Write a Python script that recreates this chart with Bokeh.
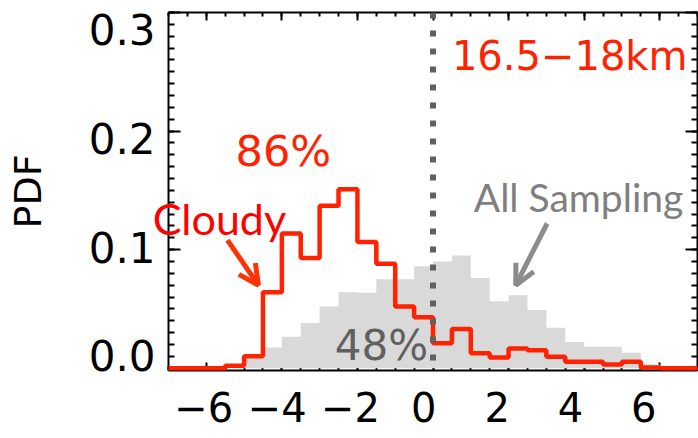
from bokeh.plotting import figure
from bokeh.models import (LinearAxis, Range1d, FixedTicker, Span, Label, Arrow, OpenHead)
from bokeh.core.properties import value
from bokeh.embed import file_html
from bokeh.resources import INLINE

# ---------------- data ----------------
bin_left = [-7.0, -6.5, -6.0, -5.5, -5.0, -4.5, -4.0, -3.5, -3.0, -2.5, -2.0, -1.5, -1.0, -0.5,
            0.0, 0.5, 1.0, 1.5, 2.0, 2.5, 3.0, 3.5, 4.0, 4.5, 5.0, 5.5, 6.0, 6.5]
bin_width = 0.5
cloudy_pdf = [0.0, 0.0, 0.0, 0.002, 0.010, 0.064, 0.1135, 0.093, 0.137, 0.151, 0.1065, 0.088, 0.052, 0.043,
              0.021, 0.033, 0.0125, 0.009, 0.0165, 0.015, 0.0095, 0.0053, 0.0053, 0.003, 0.0053, 0.0005, 0.0, 0.0]
all_pdf = [0.0, 0.0, 0.001, 0.003, 0.009, 0.0175, 0.0265, 0.038, 0.052, 0.064, 0.0635, 0.075, 0.075, 0.086,
           0.090, 0.095, 0.076, 0.0565, 0.0615, 0.049, 0.034, 0.022, 0.018, 0.018, 0.013, 0.003, 0.0, 0.0]
x_tick_values = [-6, -4, -2, 0, 2, 4, 6]
x_tick_labels = ["\u22126", "\u22124", "\u22122", "0", "2", "4", "6"]
y_tick_values = [0.0, 0.1, 0.2, 0.3]
y_tick_labels = ["0.0", "0.1", "0.2", "0.3"]
x_minor_values = [-7.0 + 0.5 * i for i in range(29)]
y_minor_values = [round(0.01 * i, 2) for i in range(31)]

edges = bin_left + [bin_left[-1] + bin_width]
cloudy_step = cloudy_pdf + [cloudy_pdf[-1]]
all_step = all_pdf + [all_pdf[-1]]

RED = "#ff2200"
TICK_FONT = "DejaVu Sans"

p = figure(width=698, height=438, x_range=Range1d(-7, 7), y_range=Range1d(-0.002, 0.3),
           output_backend="svg", toolbar_location=None,
           x_axis_type=None, y_axis_type=None,
           min_border_left=168, min_border_right=1, min_border_top=12, min_border_bottom=68)
p.outline_line_color = None
p.background_fill_color = "white"
p.border_fill_color = "white"

p.extra_x_ranges = {"lab": Range1d(-6.962, 7.464)}
p.extra_y_ranges = {"lab": Range1d(-0.0135, 0.3159)}


def tick_axis(loc, positions, length, with_line):
    ax = LinearAxis(ticker=FixedTicker(ticks=[], minor_ticks=positions),
                    axis_line_color="black" if with_line else None, axis_line_width=2,
                    major_tick_in=0, major_tick_out=0,
                    minor_tick_in=length, minor_tick_out=0,
                    minor_tick_line_width=2, minor_tick_line_color="black",
                    major_tick_line_color=None, major_label_standoff=0)
    p.add_layout(ax, loc)
    return ax


for loc in ("below", "above"):
    tick_axis(loc, x_minor_values, 4, True)
    tick_axis(loc, x_tick_values, 8, False)
for loc in ("left", "right"):
    tick_axis(loc, y_minor_values, 6, True)
    tick_axis(loc, y_tick_values, 12, False)

xlab = LinearAxis(x_range_name="lab", ticker=FixedTicker(ticks=x_tick_values),
                  major_label_overrides=dict(zip(x_tick_values, x_tick_labels)),
                  axis_line_color=None, major_tick_line_color=None, minor_tick_line_color=None,
                  major_tick_out=0, major_tick_in=0,
                  major_label_text_font=TICK_FONT, major_label_text_font_size="40px",
                  major_label_text_color="black", major_label_standoff=21)
p.add_layout(xlab, "below")

ylab = LinearAxis(y_range_name="lab", ticker=FixedTicker(ticks=y_tick_values),
                  major_label_overrides=dict(zip(y_tick_values, y_tick_labels)),
                  axis_line_color=None, major_tick_line_color=None, minor_tick_line_color=None,
                  major_tick_out=0, major_tick_in=0,
                  major_label_text_font=TICK_FONT, major_label_text_font_size="42px",
                  major_label_text_color="black", major_label_standoff=13,
                  axis_label="PDF", axis_label_text_font=TICK_FONT,
                  axis_label_text_font_size="38px", axis_label_text_font_style="normal",
                  axis_label_text_color="black", axis_label_standoff=36)
p.add_layout(ylab, "left")

# histograms
p.varea_step(x=edges, y1=0, y2=all_step, step_mode="after", fill_color="#d9d9d9",
             level="annotation")
p.step(x=edges, y=cloudy_step, mode="after", line_color=RED, line_width=4.5,
       level="annotation")

p.add_layout(Span(location=0, dimension="height", line_color="#606060", line_width=6,
                  line_dash="6 12", level="overlay"))

p.add_layout(Label(x=-5.225, y=0.1834, text="86%", text_color=RED, text_font=TICK_FONT,
                   text_font_size="43px", text_baseline="alphabetic", level="overlay"))
p.add_layout(Label(x=0.5, y=0.2634, text="16.5\u221218km", text_color=RED, text_font=TICK_FONT,
                   text_font_size="40px", text_baseline="alphabetic", level="overlay"))
p.add_layout(Label(x=-2.6, y=0.019, text="48%", text_color="#606060", text_font=TICK_FONT,
                   text_font_size="42px", text_baseline="alphabetic", level="overlay"))
p.add_layout(Label(x=1.08, y=0.1441, text="All Sampling", text_color="#7f7f7f", text_font="Lato",
                   text_font_size="39px", text_baseline="alphabetic", level="overlay"))

# "Cloudy" crosses the left frame edge, drawn as a text glyph
p.text(x=[-7.42], y=[0.1259], text=["Cloudy"], text_color="#ff0000", text_font=value("Lato"),
       text_font_size="43px", text_baseline="alphabetic", text_align="left", level="overlay")

p.add_layout(Arrow(end=OpenHead(size=20, line_color="#ff3300", line_width=5),
                   x_start=-5.44, y_start=0.108, x_end=-4.62, y_end=0.070,
                   line_color="#ff3300", line_width=5, level="overlay"))
p.add_layout(Arrow(end=OpenHead(size=20, line_color="#8c8c8c", line_width=5),
                   x_start=3.02, y_start=0.122, x_end=2.19, y_end=0.070,
                   line_color="#8c8c8c", line_width=5, level="overlay"))

open("out.html", "w").write(file_html(p, INLINE))
